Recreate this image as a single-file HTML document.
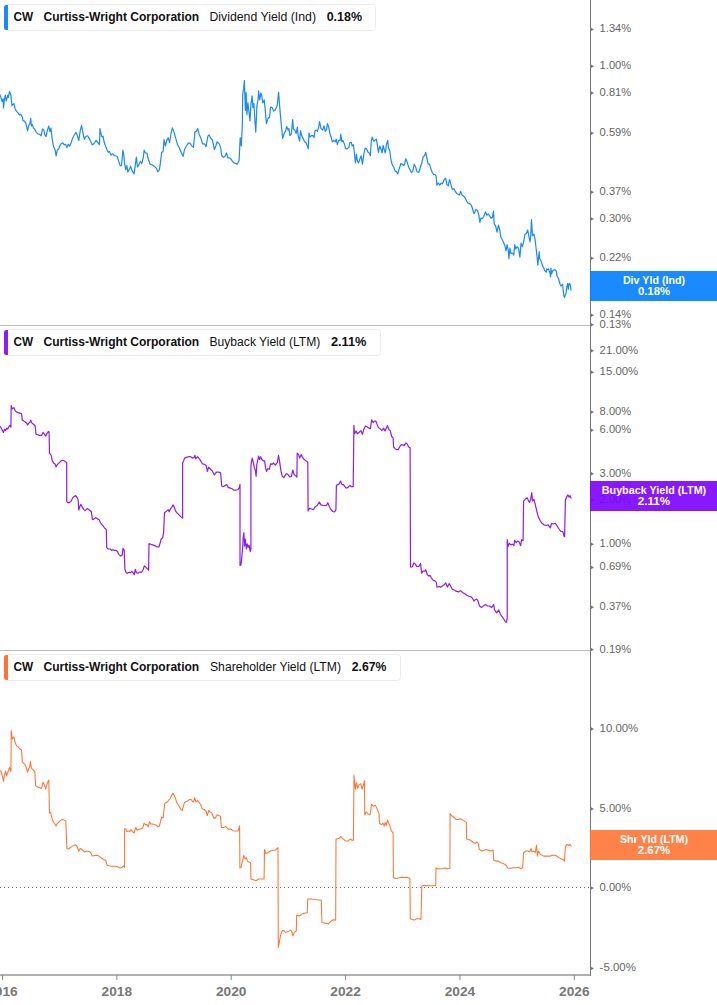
<!DOCTYPE html><html><head><meta charset="utf-8"><style>html,body{margin:0;padding:0;background:#fff;overflow:hidden}svg{display:block}text{font-family:"Liberation Sans",sans-serif}</style></head><body>
<svg width="717" height="1005" viewBox="0 0 717 1005">
<rect width="717" height="1005" fill="#fff"/>
<rect x="0" y="325" width="590" height="1" fill="#bdbdbd"/>
<rect x="0" y="650" width="590" height="1" fill="#bdbdbd"/>
<line x1="0" y1="887.5" x2="590" y2="887.5" stroke="#6a6a6a" stroke-width="1" stroke-dasharray="1 3"/>
<polyline fill="none" stroke="#1a88ff" stroke-width="1.2" stroke-linejoin="round" stroke-linecap="round" points="0,94.6 1.1,98.1 2.1,101.6 3.1,98.8 3.5,107.9 4.2,100.9 5.3,95.1 6.3,100.9 7.7,95.3 8.4,97.4 9.5,91.4 10.9,95.3 11.9,105.8 12.8,104.4 13.9,103.7 15.3,109.3 16.7,111.4 18.1,112.8 19.5,114.9 20.9,114.2 22.3,117 23,120.4 24.4,121.1 25.8,123.2 27.6,130.9 28.6,126 30,123.2 30.7,118.4 31.4,126 32.4,124.6 33.5,128.1 34.9,129.5 36.3,132.3 37.7,133.7 39.7,134.4 41.1,135.8 42.5,128.8 43.9,130.2 44.6,134.4 46,136.5 47.4,130.2 48.8,126 49.9,131.6 50.9,128.1 51.6,133.7 52.3,140 53.7,146.9 55.1,149.7 56.1,156 57.2,150.4 58.6,149 60,145.6 61.4,143.5 62.8,142.8 64.2,144.9 65.6,144.2 66.9,147.6 68.3,144.2 69.7,146.2 71.1,142.8 72.5,138.6 73.9,135.8 76,132.3 77.4,135.8 78.8,140.7 80.2,130.9 81.6,125.3 83,133 84.4,139.3 85.8,136.5 87.6,135.8 89.3,138.6 90.7,141.4 92.3,144.9 94.1,143.5 96,140.7 96.1,140.4 97.8,142.5 99.5,144.6 100,128.6 100.9,133.5 102,137 103.1,136.3 104.1,141.8 105.5,146 106.9,149.5 108.2,152.3 109.6,151.6 111,155.1 112.4,153.7 113.8,155.1 115.2,155.8 117.3,156.5 118.7,161.4 120.1,165.6 121.5,165.6 122.9,150.2 123.9,155.8 124.7,164.2 125.7,169.7 126.8,165.6 127.8,171.8 129.2,169.7 130.6,166.2 132,170.4 134.1,173.9 135.4,164.2 136.4,157.2 137.5,166.9 138.9,164.9 140.3,161.4 141.7,163.5 143.1,158.6 144.1,150.2 145.5,153 146.9,153 148.3,159.3 150.1,164.2 152.2,164.9 154.3,166.2 156.4,168.3 157.8,171.8 159.4,169.7 160.6,161.4 161.7,152.3 163.1,151.6 164,139.7 165.4,146 166.8,140.4 168.2,137.7 169.6,142.5 171,133.5 172.4,127.9 173.8,131.4 175.2,136.3 177.3,143.9 179.4,148.1 181.5,153 183.1,156.5 184.5,149.5 186.4,146 188.4,143.2 190,143.2 191.4,145.3 193.5,147.4 194.9,132.1 196.3,131.4 197.7,128.6 199.1,134.2 200.9,138.3 202.6,143.9 204.6,143.9 206,146.7 207.9,136.2 209.2,134.9 210.6,138.3 212.3,139.7 214.4,149.5 215.8,146 217.2,141.8 219.3,143.9 220.7,148.1 221.8,155.8 223.5,157.2 224.9,156.5 226.5,153 227.9,157.9 229.7,157.9 231.6,160 233.5,162.7 235.3,163.4 237.4,164.1 239.1,160.7 240.2,137.6 241.3,146 242.3,125.8 242.7,94.4 243.7,88.1 244.4,80.5 244.8,95.1 245.5,110.4 246.1,92.3 246.9,114.6 247.9,102.8 248.9,111.1 250,120.9 250.9,104.9 252.1,95.8 253,107.7 253.9,103.5 254.9,120.2 255.8,132.1 256.9,105.6 258.1,99.3 258.6,90.9 259.7,100 260.9,93 261.8,95.8 262.8,102.8 264.2,100 265.3,110.4 266.4,123.7 268.1,118.1 269.5,117.4 270.6,107 272.3,107.7 273.7,111.1 275.4,109.7 277.2,105.6 278.6,92.3 280,110.4 281.4,125.8 282.7,138.3 284.1,133.5 285.5,131.4 286.7,126.5 288.1,130 288.9,128.6 289.9,135.6 291.3,134.2 292.7,119.5 293.4,129.3 294.8,130 296.2,133.5 297.3,127.2 298.2,135.6 299.6,141.1 300.6,130.7 301.7,135.6 303.4,139.1 304.5,141.8 305.9,142.5 307.3,146 308.3,148.8 309,132.8 310.1,137 311.5,135.6 312.9,135.6 314,137.7 315,130.7 316.4,130 317.4,131.4 318.5,127.9 319.6,121.6 321,128.6 322.7,130 324.1,125.8 325.2,131.4 326.6,129.3 327.5,123.7 328.9,127.9 329.9,133.5 331.3,137.7 332.4,141.8 333.8,140.4 335.2,141.8 336.3,139.1 337.3,144.6 338.7,140.4 340.1,140.4 340.8,134.2 341.9,141.8 342.9,140.4 344.3,143.9 345.7,148.8 347.1,148.8 348.9,147.4 349.9,142.5 351.2,142.5 352.2,146 353.3,144.6 354,148.8 355.4,162.8 356.4,154.4 357.5,161.4 358.6,162.8 360,158.6 361.2,155.8 362.4,164.2 363.8,154.4 365.2,148.1 366.6,148.8 368,152.3 369.4,153 370.4,155.8 371.2,141.8 372.2,137 373.6,141.1 375,140.4 376.4,139.1 377.3,144.6 378.4,152.3 379.8,146 381.1,149.5 382.1,153 383.1,145.3 384.2,149.5 385.3,153 386.3,145.3 387.7,140.5 388.6,148.1 389.8,150.9 390.9,159.3 392.3,164.9 393.7,167 395.1,171.1 396.5,171.8 397.9,173.9 399.5,167.7 400.9,163.5 402.3,164.2 403.7,165.6 404.8,163.5 405.8,158.6 407.2,162.1 408.6,167 410,169.7 411.4,172.5 412.8,171.1 414.2,164.2 415.6,167 417,171.8 418.8,172.5 420.4,167 421.8,162.8 423.2,156.5 424.6,155.8 425.7,152.3 426.7,157.2 428.1,164.2 429.5,164.2 430.9,169.1 432.3,172.5 433.7,174.6 435.1,174.6 436.1,176 436.9,185.1 438.3,183 439.7,185.1 441.1,183 442.5,183.7 443.9,180.2 445.6,178.1 446.9,184.4 448.3,185.8 449.5,179.5 450.9,184.4 452.2,189.3 453.9,188.6 455.3,191.4 456.7,193.5 458.1,194.2 459.5,194.9 460.6,191.4 462,194.9 463.7,196.2 465.4,198.3 466.5,201.1 468.1,203.2 470,203.9 471.4,205.3 472.7,209.5 474.1,213.7 476,209.5 477.6,210.9 478.9,215.3 479.9,222.3 480.9,218.1 482.3,218.8 483.6,216.7 485.5,211.9 486.9,215.3 488.2,213.9 489.6,216 491,218.1 492.4,217.4 493.5,211.2 494.2,223.7 495.6,225.8 497,232.1 498.4,225.1 499.8,230 500.8,237 502.2,239.7 503.6,242.5 505,246 506,250.9 507.1,244.6 508.2,250.2 508.9,258.6 509.9,248.1 511,253.7 512.4,253 513.8,255.1 514.7,244.6 515.7,248.8 517.1,246.7 518.5,248.1 519.9,257.2 521,243.2 522.4,246.7 523.8,241.1 524.9,234.2 526.3,233.5 527.7,230 529.1,237.7 530.1,241.8 530.8,234.2 531.5,219.5 532.5,235.6 533.9,234.2 535,239.1 536.3,250 537.1,257.5 537.9,265.1 538.4,258.4 539.2,251.7 539.6,258.4 540.5,260 541.3,261.7 542.1,264.6 543,266.7 543.8,268 544.6,270.5 545.5,271.3 546.3,272.2 546.7,268.8 547.6,269.7 548.4,268.8 549.2,270.9 550.1,273 550.5,276.8 550.9,268 551.6,273.8 552.2,272.2 553,270.5 553.8,270.1 554.7,269.7 555.5,270.1 556.4,271.3 556.8,275.1 557.6,277.2 558.5,278.5 559.3,281.8 560.1,284.3 561,286 561.8,285.1 562.6,284.3 563.1,289.3 563.9,295.6 564.5,297.7 565.1,295.6 566,293.5 566.8,286.8 567.7,283.5 568.3,289.3 568.9,284.3 569.7,283.5 570.3,285.1 571,290.2"/>
<polyline fill="none" stroke="#8a1cff" stroke-width="1.2" stroke-linejoin="round" stroke-linecap="round" points="0,426.4 1.1,427.8 2.1,429.9 3.5,432.4 4.5,429.2 5.6,430.6 6.7,428.2 7.7,429.2 8.6,427.1 9.8,425.4 10.9,427.1 11.2,405.5 12.3,408.9 13.9,407.6 15.3,411 17.4,412.4 19.5,413.1 21.6,413.8 22.3,420.1 24.4,421.5 26.5,422.9 27.6,425 29,422.9 30,422.2 30.7,420.1 31.8,422.9 33.5,424.3 35.1,425.7 36,434.1 37.7,434.7 39.7,435.4 41.6,435.4 43,432.4 44.4,434.1 45.7,436.1 47.1,433.4 48.5,431.3 49.1,432 49.5,453.6 50.5,454.3 51.3,455.7 52.3,460.6 53.7,463.3 55.1,464 56.1,466.8 57.2,464.7 59.3,462.6 61.4,460.8 62.8,460.3 64.9,461.2 66.7,462.6 66.7,501.6 68.4,503 69.8,502.3 71.2,500.9 72.6,498.1 73.9,496.7 75.6,495.6 77,497.4 78.1,499.5 78.8,510 79.8,506.5 80.9,504.4 82.3,507.2 83.7,509.3 85.1,510.7 86.5,509.3 87.6,508.6 89.3,510 91.4,511.8 92.4,519.7 93.8,519.1 95.6,517.7 97,518.4 99.1,519.7 100.4,522.5 101.8,524.6 103.2,526 104.6,528.1 106.3,529.5 106.7,547.6 108.1,549 110.2,549 111.6,550.4 113,549.7 114.4,550.4 115.8,550.4 117.2,551.1 118.9,554.6 120.7,556 122.1,555.3 123,548.3 124.2,550.4 124.9,569.3 126.2,572.7 127.6,573.4 129,572.1 130.4,572.7 131.8,571.4 133.2,572.7 134.2,574.8 135.3,569.3 136.4,572.7 137.8,573.2 139.5,572.1 141.6,572.1 143,570 144.4,565.8 145.8,567.2 147.2,568.6 148.6,570 149,543.5 150.7,544.2 152.7,544.9 154.8,545.6 156.9,546.9 159,546.9 161.3,539 162.7,537.6 163.6,532.7 164.5,512.5 165.9,511.8 167.3,510.4 168.2,509.7 169.2,511.8 170.3,509 171.7,507.6 172.9,504.9 174.2,506.9 175.6,511.1 177.3,513.2 179.4,515.3 181.5,517.4 182.6,518.1 182.6,463 183.6,460.9 184.6,458.1 186.4,457.4 188.5,456.7 190.6,456.7 192.4,458.1 194.1,457.4 194.9,455.3 195.7,458.8 197.5,456.7 199.4,458.8 200.7,460.9 202.4,463.7 204.5,464.4 206.3,465.8 207.3,471.4 208.7,467.2 210.5,469.3 212.2,470.7 214.3,474.9 216.4,472.1 218.9,472.1 220.6,472.8 221.7,486 223.3,486.7 225.4,485.3 226.8,484.6 228.2,487.4 230.3,488.1 232.4,488.8 233.8,490.2 235.9,490.2 238,489.5 239.4,487.4 240,484.4 240,565.5 240.9,564.8 241.4,561.3 241.9,555.8 242.6,548.8 243.2,537.6 243.9,532.7 244.6,546 245.3,539 246.3,548.8 247.2,543.9 248.1,547.4 249.2,545.3 250.2,551.6 250.9,548.8 250.9,466.5 251.6,460.9 252.3,458.1 253.4,463 254.4,467.9 255.4,470.7 256.1,476.3 256.8,464.4 257.6,460.9 258.6,456 259.6,459.5 260.7,456.7 261.8,459.5 263.2,460.9 264.6,460.9 265.6,467.9 266.5,471.4 267.9,468.6 269.3,469.3 270.7,463.7 272.1,464.4 273.5,463 275.3,465.1 277.4,462.3 278.5,455.3 279.5,460.9 280.9,470.7 282.3,476.3 283.7,477.7 285.1,475.6 286.5,473.5 288.3,474.9 289.7,477 291.4,476.3 292.8,470 293.9,474.2 295.6,475.6 296.9,477 297.2,453.2 298.6,454.6 299.7,458.1 301.1,454.6 302.5,457.4 304.2,459.5 306,460.9 307.8,462.3 308.1,511.1 309.5,508.3 311.6,509 313.4,509.7 315.1,506.9 317.2,505.5 319.3,502.1 320.9,504.9 323.2,505.5 325.1,505.5 326.4,505.5 327.8,502.7 329.2,506.2 330.6,509 332.7,511.5 334.8,511.8 335.9,509.7 336.4,485.3 337.8,484.6 339.2,483.9 340.6,481.1 342,484.6 343.4,484.6 344.8,486.7 346.2,488.1 348,487.4 349.8,485.3 351.5,486.7 353.2,486.7 353.9,425.3 354.6,433.7 356,430.9 357.4,433.7 359.2,432.3 361,430.6 362.4,434.4 363.8,429.5 365.4,426 367.1,426.7 368.9,428.1 370.3,428.8 371.7,419.8 373.1,422.6 374.5,421.2 375.9,421.2 376.9,423.9 378.3,427.4 380.1,428.8 381.9,430.6 383.6,428.1 385,430.9 386.4,428.1 387.5,425.6 388.9,429.5 390.3,430.9 391.7,436.5 393.1,437.9 393.6,447 395,448.4 396.8,449.7 398.2,449.7 399.6,447 401,444.9 402.8,444.9 404.2,445.6 405.9,442.8 407.3,444.2 408.7,447 410.1,447.7 410.5,567 412.3,567 413.9,562.8 415.3,564.2 416.7,566.3 418.8,566.5 420.6,563.5 421.6,573.2 423,571.1 424.8,571.1 425.8,569.7 427.2,574.6 428.6,576 430,575.3 431.4,578.1 433.2,580.2 434.9,580.9 436.3,582.3 437,587.2 439.1,586.5 440.7,587.2 442.5,585.8 444.4,584.4 445.7,583 447.4,586.9 449.1,583.7 450.5,585.8 452.3,589.3 454.7,590.3 456.5,591.4 458.6,591.8 460.7,590.7 462.5,592.5 464.4,593.5 466.7,595.3 469,596.2 471.1,596.9 472.5,598.3 473.9,601.1 475.3,599.7 476.7,599 478.1,601.1 479.5,606 481.6,607.4 483.4,606 485.4,604.6 487.6,606 489.5,606 491.5,607.6 493.7,604.6 494.5,609.9 496.7,612.8 498.7,609.9 500.4,614.3 502.7,617.3 504.9,621 506.1,622.5 507.2,618.8 507.2,539.7 508.2,546.4 509.4,543.4 510.9,544.9 512.4,544.2 513.9,545.7 514.6,540.4 516.1,542.7 517.6,541.2 519.1,541.9 520.6,545.7 521.6,539.7 523.1,540.4 523.6,500.9 524.6,500.1 525.8,498.7 527.3,497.9 528.5,500.9 529.6,502.4 530.6,499.4 531.8,492.7 532.5,500.9 534,499.4 535.5,505.4 537,512.1 538.5,517.3 540,520.3 541.9,523.3 544,524.8 546.4,525.5 548.2,524.8 550.4,527.8 551.5,523.3 553.4,524 555.4,523.3 556.9,525.5 558.7,528.5 560.9,531.5 562.8,531.5 564,536 564.6,536.7 565.4,500.1 566.9,496.4 567.9,494.9 569.1,497.2 570.1,495.7 571,497.9"/>
<polyline fill="none" stroke="#ff7434" stroke-width="1.05" stroke-linejoin="round" stroke-linecap="round" points="0,770.3 1.1,771.7 2.5,776.6 3.5,781.5 4.2,775.9 5.6,771 6.7,775.9 8.1,771.7 9.5,767.5 10.9,771.7 11.2,730.6 12.3,739 13.9,736.9 15.3,743.1 16.7,745.9 18.1,746.6 19.5,748.7 21.6,750.1 22.3,762 23.7,763.4 25.1,764.7 26.5,768.2 27.6,772.4 28.6,768.9 29.6,767.5 30.4,761.3 31.4,768.2 32.8,769.6 34.9,771.7 35.6,785.7 37.7,787.1 39.7,787.8 41.6,788.5 43,782.2 44.4,785 45.7,788.9 47.4,782.9 48.8,780.1 49.5,812.9 50.5,812.2 51.6,817.1 53,821.2 54.7,824 56.1,826.1 57.5,823.3 59.7,821.2 61.6,819.8 63.9,819.8 65.8,821.2 66.9,848.4 68.6,849.1 70.4,847.7 72.5,846.1 75.3,844.7 77,846.3 78.8,851.2 80.2,848.4 82.3,849.8 84.4,851.9 86.5,851.2 88.6,851.2 90.7,852.6 92.3,856.1 94.8,855.4 97.8,855.3 100.6,857.4 103.4,859.5 105.9,860.6 106.9,865.1 108.9,865.8 111.7,866.2 114.5,866.2 117,866.5 118.7,867.6 120.4,868.1 122.2,867.2 123.6,865.8 124.6,867.2 124.6,828.8 125.7,828.8 126.8,831.6 128.5,830.9 129.9,831.6 131,829.5 132.4,831.6 134.1,833 135.7,827.4 137.1,830.2 138.9,829.5 141,828.8 142.7,828.1 144.1,823.2 145.5,824.6 146.9,824.6 148.3,826.7 149.4,821.8 150.8,823.9 152.5,823.9 154.3,824.6 156.4,825.3 157.8,826.7 159.4,826 160.8,820.4 161.7,817 163.1,817.7 164.7,803.7 166.1,802.3 167.2,802.3 168.6,800.2 170,798.8 171.4,796 172.8,793.2 174.2,795.3 175.6,798.8 177,803 178.7,805.8 180.4,808.6 182.2,810.7 184.3,803 185.9,801.6 187.7,800.9 189.6,799.5 191.2,799.5 192.6,801.6 193.4,802 194.7,797.8 195.9,802 197.6,800.3 199.3,802.8 201,805.4 202.2,808.8 204.4,809.6 206.1,811.3 207.3,815.5 208.6,810.5 210.3,812.1 212,813 213.7,818.1 215.4,818.1 217.1,814.7 218.8,815.5 220.5,816.4 221.3,827.4 223.5,827.4 225.9,826.5 228.1,829.1 230.6,829.1 233.1,830.8 235.7,831.1 238.2,830.8 239.6,825.7 239.9,868 241.1,867.1 242.5,861.2 243.8,855.3 245,858.7 246.3,857.8 247.5,861.2 249.2,862.1 250.6,862.9 250.9,879 253.5,879.8 256,880.7 258.5,879 261.1,879 264.1,879 264.5,849.4 265.8,853.6 267.8,852.8 270.4,851.1 272.9,850.2 275.4,850.2 278,847.7 278.3,947.5 279.3,942.4 280.5,935.7 282.2,930.6 283.9,930.6 285.6,932.3 286.9,932 288.8,931.1 290.7,930.1 292.2,933 292.9,935.8 294.5,932 296.3,931.1 296.7,915 299.2,916 302,914.1 304.8,913.1 307.3,912.7 307.7,898.9 311.5,898.9 315.2,899.5 319,899.9 321.3,900.3 321.9,922.6 324.7,923 328.1,924.1 330.4,921.6 333.2,919.7 335.7,920.3 336,839 338.9,838.4 340.8,836.6 342.7,838.4 345.5,840.9 348.3,840.9 350.2,839 352.1,840.3 353.4,840.3 354,775.1 355.3,789.3 356.5,782.7 357.8,788.4 359.1,784.6 360.6,783.6 362.1,789.3 363.5,784.6 364.4,780.8 364.8,814.8 366.3,812 368.2,813.9 370.1,814.8 371.6,804.4 373.5,806.3 375.4,805.4 377.6,810.1 379.1,813.9 379.5,823.3 381.5,824.6 383,823.1 384.2,826.1 385.2,822.4 386.3,825.4 387.5,820.1 388.7,823.1 390.1,826.1 391.2,830.6 393.1,832.8 393.4,877.6 395.7,878.4 398.7,877.9 401.6,877.3 404.6,877.6 406.9,877.3 409.9,878.4 410.3,918.7 412.1,919.4 414.3,920.1 416.6,918.7 419.1,918.7 421,919.4 421.8,885.8 424.8,885.4 429.3,885.8 433,885.8 435.7,885.8 436,867.9 437.9,869 440.4,868.7 442.7,868.4 444.9,867.9 447.2,868.7 449.9,868.4 450.1,813.4 451.6,815.7 453.9,817.2 456.1,819.4 458.4,819.4 460.6,818.7 462.8,820.1 465.1,821.6 466.3,822.4 466.6,839.1 468.8,839.6 471,840.6 473.3,842.5 475.5,843.3 476.7,841.8 478.3,843.5 479.2,849.4 481.7,851 484.2,850.2 485.9,849.4 488.4,850.2 490.9,851 493.1,849.9 493.7,860.3 495.9,861.1 498.4,861.1 500.9,862.8 503.5,863.6 506,865.3 508.1,868.3 510.1,868.3 512.7,867.8 516,867.8 518.5,867.3 520.5,868.6 522.7,867.8 523.5,852.7 526,851 527.7,851 529.4,851.9 531.1,848.5 531.9,851.9 533.6,851 535.2,852.7 536.6,845.2 537.3,856.1 538.3,851 540.3,854.4 543.6,856.1 547,856.1 550.3,856.1 552.8,855.2 555.3,855.2 557.8,856.9 560.4,858.6 562.9,859.4 564.5,861.1 565.4,846.9 567,844.4 568.7,845.5 570.1,844.4 571.2,846"/>
<rect x="0" y="974" width="591" height="2" fill="#b0b0b0"/>
<rect x="2.00" y="975" width="1" height="5" fill="#888"/>
<text x="2.50" y="996" font-size="12.5" font-weight="bold" fill="#777" text-anchor="middle" textLength="30.5" lengthAdjust="spacingAndGlyphs">2016</text>
<rect x="116.36" y="975" width="1" height="5" fill="#888"/>
<text x="116.86" y="996" font-size="12.5" font-weight="bold" fill="#777" text-anchor="middle" textLength="30.5" lengthAdjust="spacingAndGlyphs">2018</text>
<rect x="230.72" y="975" width="1" height="5" fill="#888"/>
<text x="231.22" y="996" font-size="12.5" font-weight="bold" fill="#777" text-anchor="middle" textLength="30.5" lengthAdjust="spacingAndGlyphs">2020</text>
<rect x="345.08" y="975" width="1" height="5" fill="#888"/>
<text x="345.58" y="996" font-size="12.5" font-weight="bold" fill="#777" text-anchor="middle" textLength="30.5" lengthAdjust="spacingAndGlyphs">2022</text>
<rect x="459.44" y="975" width="1" height="5" fill="#888"/>
<text x="459.94" y="996" font-size="12.5" font-weight="bold" fill="#777" text-anchor="middle" textLength="30.5" lengthAdjust="spacingAndGlyphs">2024</text>
<rect x="573.80" y="975" width="1" height="5" fill="#888"/>
<text x="574.30" y="996" font-size="12.5" font-weight="bold" fill="#777" text-anchor="middle" textLength="30.5" lengthAdjust="spacingAndGlyphs">2026</text>
<rect x="590" y="0" width="1" height="976" fill="#777"/>
<path d="M591 27.70L594 29.40L591 31.10Z" fill="#777"/>
<text x="599.6" y="32.30" font-size="11" fill="#666" textLength="31.6" lengthAdjust="spacingAndGlyphs">1.34%</text>
<path d="M591 64.60L594 66.30L591 68.00Z" fill="#777"/>
<text x="599.6" y="69.20" font-size="11" fill="#666" textLength="31.6" lengthAdjust="spacingAndGlyphs">1.00%</text>
<path d="M591 91.30L594 93.00L591 94.70Z" fill="#777"/>
<text x="599.6" y="95.90" font-size="11" fill="#666" textLength="31.6" lengthAdjust="spacingAndGlyphs">0.81%</text>
<path d="M591 131.60L594 133.30L591 135.00Z" fill="#777"/>
<text x="599.6" y="136.20" font-size="11" fill="#666" textLength="31.6" lengthAdjust="spacingAndGlyphs">0.59%</text>
<path d="M591 190.60L594 192.30L591 194.00Z" fill="#777"/>
<text x="599.6" y="195.20" font-size="11" fill="#666" textLength="31.6" lengthAdjust="spacingAndGlyphs">0.37%</text>
<path d="M591 217.20L594 218.90L591 220.60Z" fill="#777"/>
<text x="599.6" y="221.80" font-size="11" fill="#666" textLength="31.6" lengthAdjust="spacingAndGlyphs">0.30%</text>
<path d="M591 256.60L594 258.30L591 260.00Z" fill="#777"/>
<text x="599.6" y="261.20" font-size="11" fill="#666" textLength="31.6" lengthAdjust="spacingAndGlyphs">0.22%</text>
<path d="M591 313.50L594 315.20L591 316.90Z" fill="#777"/>
<text x="599.6" y="318.10" font-size="11" fill="#666" textLength="31.6" lengthAdjust="spacingAndGlyphs">0.14%</text>
<path d="M591 323.10L594 324.80L591 326.50Z" fill="#777"/>
<text x="599.6" y="327.70" font-size="11" fill="#666" textLength="31.6" lengthAdjust="spacingAndGlyphs">0.13%</text>
<path d="M591 349.10L594 350.80L591 352.50Z" fill="#777"/>
<text x="599.6" y="353.70" font-size="11" fill="#666" textLength="38.6" lengthAdjust="spacingAndGlyphs">21.00%</text>
<path d="M591 370.50L594 372.20L591 373.90Z" fill="#777"/>
<text x="599.6" y="375.10" font-size="11" fill="#666" textLength="38.6" lengthAdjust="spacingAndGlyphs">15.00%</text>
<path d="M591 410.40L594 412.10L591 413.80Z" fill="#777"/>
<text x="599.6" y="415.00" font-size="11" fill="#666" textLength="31.6" lengthAdjust="spacingAndGlyphs">8.00%</text>
<path d="M591 428.50L594 430.20L591 431.90Z" fill="#777"/>
<text x="599.6" y="433.10" font-size="11" fill="#666" textLength="31.6" lengthAdjust="spacingAndGlyphs">6.00%</text>
<path d="M591 472.10L594 473.80L591 475.50Z" fill="#777"/>
<text x="599.6" y="476.70" font-size="11" fill="#666" textLength="31.6" lengthAdjust="spacingAndGlyphs">3.00%</text>
<path d="M591 498.10L594 499.80L591 501.50Z" fill="#777"/>
<text x="599.6" y="502.70" font-size="11" fill="#666" textLength="31.6" lengthAdjust="spacingAndGlyphs">2.00%</text>
<path d="M591 542.60L594 544.30L591 546.00Z" fill="#777"/>
<text x="599.6" y="547.20" font-size="11" fill="#666" textLength="31.6" lengthAdjust="spacingAndGlyphs">1.00%</text>
<path d="M591 565.80L594 567.50L591 569.20Z" fill="#777"/>
<text x="599.6" y="570.40" font-size="11" fill="#666" textLength="31.6" lengthAdjust="spacingAndGlyphs">0.69%</text>
<path d="M591 605.60L594 607.30L591 609.00Z" fill="#777"/>
<text x="599.6" y="610.20" font-size="11" fill="#666" textLength="31.6" lengthAdjust="spacingAndGlyphs">0.37%</text>
<path d="M591 647.90L594 649.60L591 651.30Z" fill="#777"/>
<text x="599.6" y="652.50" font-size="11" fill="#666" textLength="31.6" lengthAdjust="spacingAndGlyphs">0.19%</text>
<path d="M591 727.30L594 729.00L591 730.70Z" fill="#777"/>
<text x="599.6" y="731.90" font-size="11" fill="#666" textLength="38.6" lengthAdjust="spacingAndGlyphs">10.00%</text>
<path d="M591 807.20L594 808.90L591 810.60Z" fill="#777"/>
<text x="599.6" y="811.80" font-size="11" fill="#666" textLength="31.6" lengthAdjust="spacingAndGlyphs">5.00%</text>
<path d="M591 886.40L594 888.10L591 889.80Z" fill="#777"/>
<text x="599.6" y="891.00" font-size="11" fill="#666" textLength="31.6" lengthAdjust="spacingAndGlyphs">0.00%</text>
<path d="M591 966.70L594 968.40L591 970.10Z" fill="#777"/>
<text x="599.6" y="971.30" font-size="11" fill="#666" textLength="36.3" lengthAdjust="spacingAndGlyphs">-5.00%</text>
<rect x="590" y="271" width="127" height="30" fill="#007dff" fill-opacity="0.9"/>
<text x="654" y="284" font-size="11" font-weight="bold" fill="#fff" text-anchor="middle" textLength="62.2" lengthAdjust="spacingAndGlyphs">Div Yld (Ind)</text>
<text x="654" y="295" font-size="11" font-weight="bold" fill="#fff" text-anchor="middle" textLength="32.2" lengthAdjust="spacingAndGlyphs">0.18%</text>
<rect x="590" y="481" width="127" height="30" fill="#7b00ff" fill-opacity="0.9"/>
<text x="654" y="494" font-size="11" font-weight="bold" fill="#fff" text-anchor="middle" textLength="104.4" lengthAdjust="spacingAndGlyphs">Buyback Yield (LTM)</text>
<text x="654" y="505" font-size="11" font-weight="bold" fill="#fff" text-anchor="middle" textLength="32.4" lengthAdjust="spacingAndGlyphs">2.11%</text>
<rect x="590" y="830" width="127" height="30" fill="#ff7434" fill-opacity="0.9"/>
<text x="654" y="843" font-size="11" font-weight="bold" fill="#fff" text-anchor="middle" textLength="68" lengthAdjust="spacingAndGlyphs">Shr Yld (LTM)</text>
<text x="654" y="854" font-size="11" font-weight="bold" fill="#fff" text-anchor="middle" textLength="32.4" lengthAdjust="spacingAndGlyphs">2.67%</text>
<rect x="4.5" y="4.5" width="371.0" height="26" rx="3" fill="#fff" stroke="#ececec" stroke-width="1"/>
<path d="M8 5V30H6.5A2.5 2.5 0 0 1 4 27.5V7.5A2.5 2.5 0 0 1 6.5 5Z" fill="#1a88ff"/>
<text x="13.4" y="20.8" font-size="12.5" font-weight="bold" fill="#111" textLength="19.6" lengthAdjust="spacingAndGlyphs">CW</text>
<text x="43.5" y="20.8" font-size="12.5" font-weight="bold" fill="#111" textLength="155.7" lengthAdjust="spacingAndGlyphs">Curtiss-Wright Corporation</text>
<text x="209.5" y="20.8" font-size="12.5" fill="#111" textLength="106.5" lengthAdjust="spacingAndGlyphs">Dividend Yield (Ind)</text>
<text x="326.7" y="20.8" font-size="12.5" font-weight="bold" fill="#111" textLength="35.3" lengthAdjust="spacingAndGlyphs">0.18%</text>
<rect x="4.5" y="329.5" width="376.0" height="26" rx="3" fill="#fff" stroke="#ececec" stroke-width="1"/>
<path d="M8 330V355H6.5A2.5 2.5 0 0 1 4 352.5V332.5A2.5 2.5 0 0 1 6.5 330Z" fill="#8a1cff"/>
<text x="13.4" y="345.8" font-size="12.5" font-weight="bold" fill="#111" textLength="19.6" lengthAdjust="spacingAndGlyphs">CW</text>
<text x="43.5" y="345.8" font-size="12.5" font-weight="bold" fill="#111" textLength="155.7" lengthAdjust="spacingAndGlyphs">Curtiss-Wright Corporation</text>
<text x="209.5" y="345.8" font-size="12.5" fill="#111" textLength="110.8" lengthAdjust="spacingAndGlyphs">Buyback Yield (LTM)</text>
<text x="330.9" y="345.8" font-size="12.5" font-weight="bold" fill="#111" textLength="35.4" lengthAdjust="spacingAndGlyphs">2.11%</text>
<rect x="4.5" y="654.5" width="396.0" height="26" rx="3" fill="#fff" stroke="#ececec" stroke-width="1"/>
<path d="M8 655V680H6.5A2.5 2.5 0 0 1 4 677.5V657.5A2.5 2.5 0 0 1 6.5 655Z" fill="#ff7434"/>
<text x="13.4" y="670.8" font-size="12.5" font-weight="bold" fill="#111" textLength="19.6" lengthAdjust="spacingAndGlyphs">CW</text>
<text x="43.5" y="670.8" font-size="12.5" font-weight="bold" fill="#111" textLength="155.7" lengthAdjust="spacingAndGlyphs">Curtiss-Wright Corporation</text>
<text x="210" y="670.8" font-size="12.5" fill="#111" textLength="131.0" lengthAdjust="spacingAndGlyphs">Shareholder Yield (LTM)</text>
<text x="351.7" y="670.8" font-size="12.5" font-weight="bold" fill="#111" textLength="34.7" lengthAdjust="spacingAndGlyphs">2.67%</text>
</svg></body></html>
